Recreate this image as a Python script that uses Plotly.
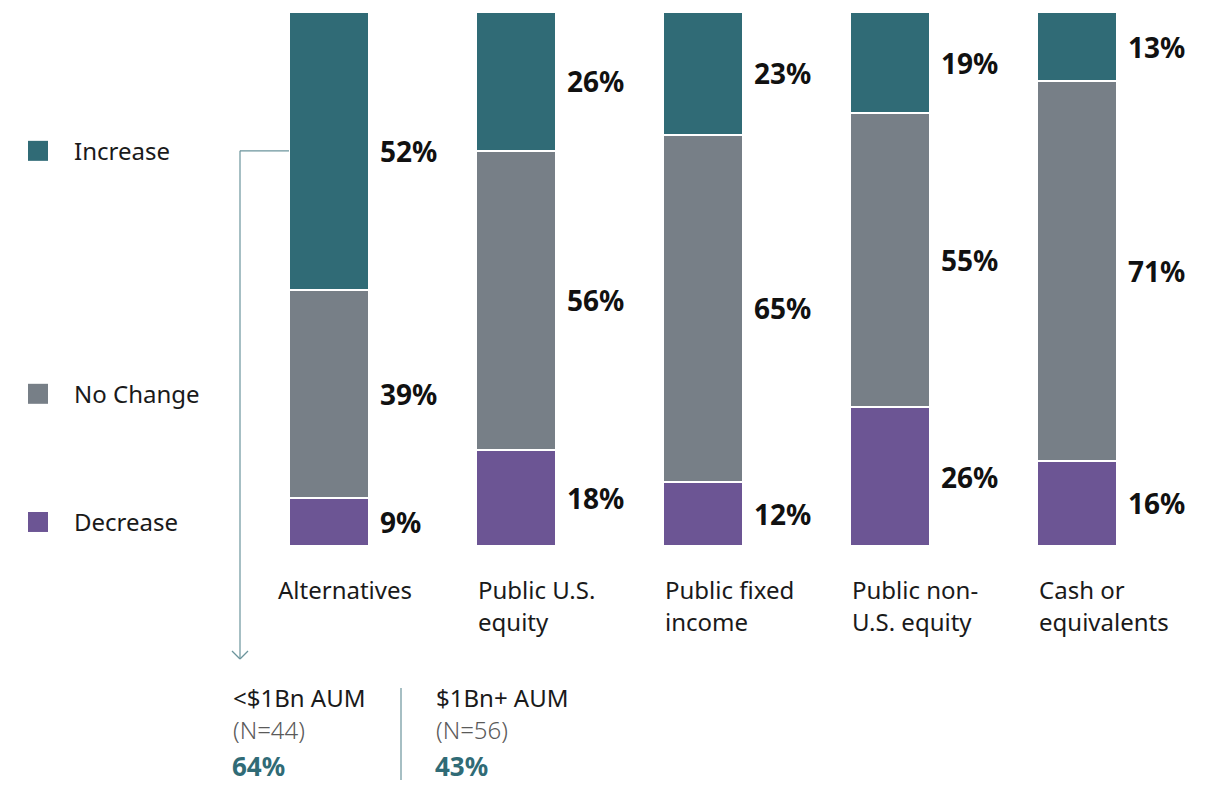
import plotly.graph_objects as go

categories = ["Alternatives", "Public U.S.\nequity", "Public fixed\nincome",
              "Public non-\nU.S. equity", "Cash or\nequivalents"]
decrease = [9, 18, 12, 26, 16]
no_change = [39, 56, 65, 55, 71]
increase = [52, 26, 23, 19, 13]

series = [("Decrease", decrease, "#6c5594"),
          ("No Change", no_change, "#777f87"),
          ("Increase", increase, "#306b76")]

aum_groups = ["<$1Bn AUM", "$1Bn+ AUM"]
aum_n = ["(N=44)", "(N=56)"]
aum_pct = ["64%", "43%"]

FONT = "Noto Sans"
TEAL = "#306b76"
LINE = "#6b949c"

# page body adds an 8px margin, so the figure is drawn 8px in from the corner
OFF = 8
W, H = 1209 - OFF, 785 - OFF

# pixel helpers (page pixels): plot area fills the figure, bar 0 centred at 329px
PX_X = 187.0
PX_Y = 5.34
def xd(px):
    return (px - 329) / PX_X
def yd(py):
    return (546 - py) / PX_Y

x = list(range(len(categories)))
bw = 80 / PX_X

fig = go.Figure()
for name, vals, col in series:
    fig.add_trace(go.Bar(x=x, y=vals, name=name, width=bw,
                         marker=dict(color=col, line=dict(color="white", width=2)),
                         showlegend=False, hoverinfo="skip"))

ann = []
# value labels right of each segment
for i in x:
    base = 0
    for name, vals, col in series:
        v = vals[i]
        ann.append(dict(x=i + bw / 2 + 9 / PX_X, y=base + v / 2, text=f"{v}%",
                        xanchor="left", yanchor="middle", showarrow=False,
                        font=dict(family=FONT, size=28, color="#111111", weight="bold")))
        base += v

# category labels below bars
for i, lab in enumerate(categories):
    lx = i - bw / 2 - (13 / PX_X if i == 0 else 0)
    for k, line in enumerate(lab.split("\n")):
        ann.append(dict(x=lx, y=yd(589 + 32 * k), text=line, xanchor="left",
                        yanchor="middle", showarrow=False,
                        font=dict(family=FONT, size=24, color="#1a1a1a")))

# legend, aligned to the first bar's segments
base = 0
for name, vals, col in series:
    cy = base + vals[0] / 2
    base += vals[0]
    fig.add_trace(go.Scatter(x=[xd(38)], y=[cy], mode="markers",
                             marker=dict(symbol="square", size=20, color=col),
                             showlegend=False, hoverinfo="skip"))
    ann.append(dict(x=xd(72), y=cy, text=name, xanchor="left", yanchor="middle",
                    showarrow=False, font=dict(family=FONT, size=24, color="#1a1a1a")))

# AUM split notes
for k in range(len(aum_groups)):
    gx = xd(231 + 203 * k)
    ann.append(dict(x=gx, y=yd(697), text=aum_groups[k], xanchor="left", yanchor="middle",
                    showarrow=False, font=dict(family=FONT, size=24, color="#1a1a1a")))
    ann.append(dict(x=gx, y=yd(729), text=aum_n[k], xanchor="left", yanchor="middle",
                    showarrow=False, font=dict(family=FONT, size=24, color="#5a5a5a", weight=300)))
    ann.append(dict(x=gx, y=yd(766), text=aum_pct[k], xanchor="left", yanchor="middle",
                    showarrow=False, borderpad=0,
                    font=dict(family=FONT, size=26, color=TEAL, weight="bold")))

alt_inc_y = decrease[0] + no_change[0] + increase[0] / 2
shapes = [
    dict(type="line", x0=xd(240), x1=-bw / 2, y0=alt_inc_y, y1=alt_inc_y,
         line=dict(color=LINE, width=1.2)),
    dict(type="line", x0=xd(240), x1=xd(240), y0=alt_inc_y, y1=yd(659),
         line=dict(color=LINE, width=1.2)),
    dict(type="line", x0=xd(232), x1=xd(240), y0=yd(651), y1=yd(659),
         line=dict(color=LINE, width=1.2)),
    dict(type="line", x0=xd(248), x1=xd(240), y0=yd(651), y1=yd(659),
         line=dict(color=LINE, width=1.2)),
    dict(type="line", x0=xd(401), x1=xd(401), y0=yd(688), y1=yd(780),
         line=dict(color=LINE, width=1.2)),
]

fig.update_layout(
    barmode="stack",
    width=W, height=H,
    margin=dict(l=0, r=0, t=0, b=0),
    plot_bgcolor="white", paper_bgcolor="white",
    xaxis=dict(range=[xd(OFF), xd(1209)], visible=False, fixedrange=True),
    yaxis=dict(range=[yd(785), yd(OFF)], visible=False, fixedrange=True),
    annotations=ann,
    shapes=shapes,
)

fig.write_html("out.html")
